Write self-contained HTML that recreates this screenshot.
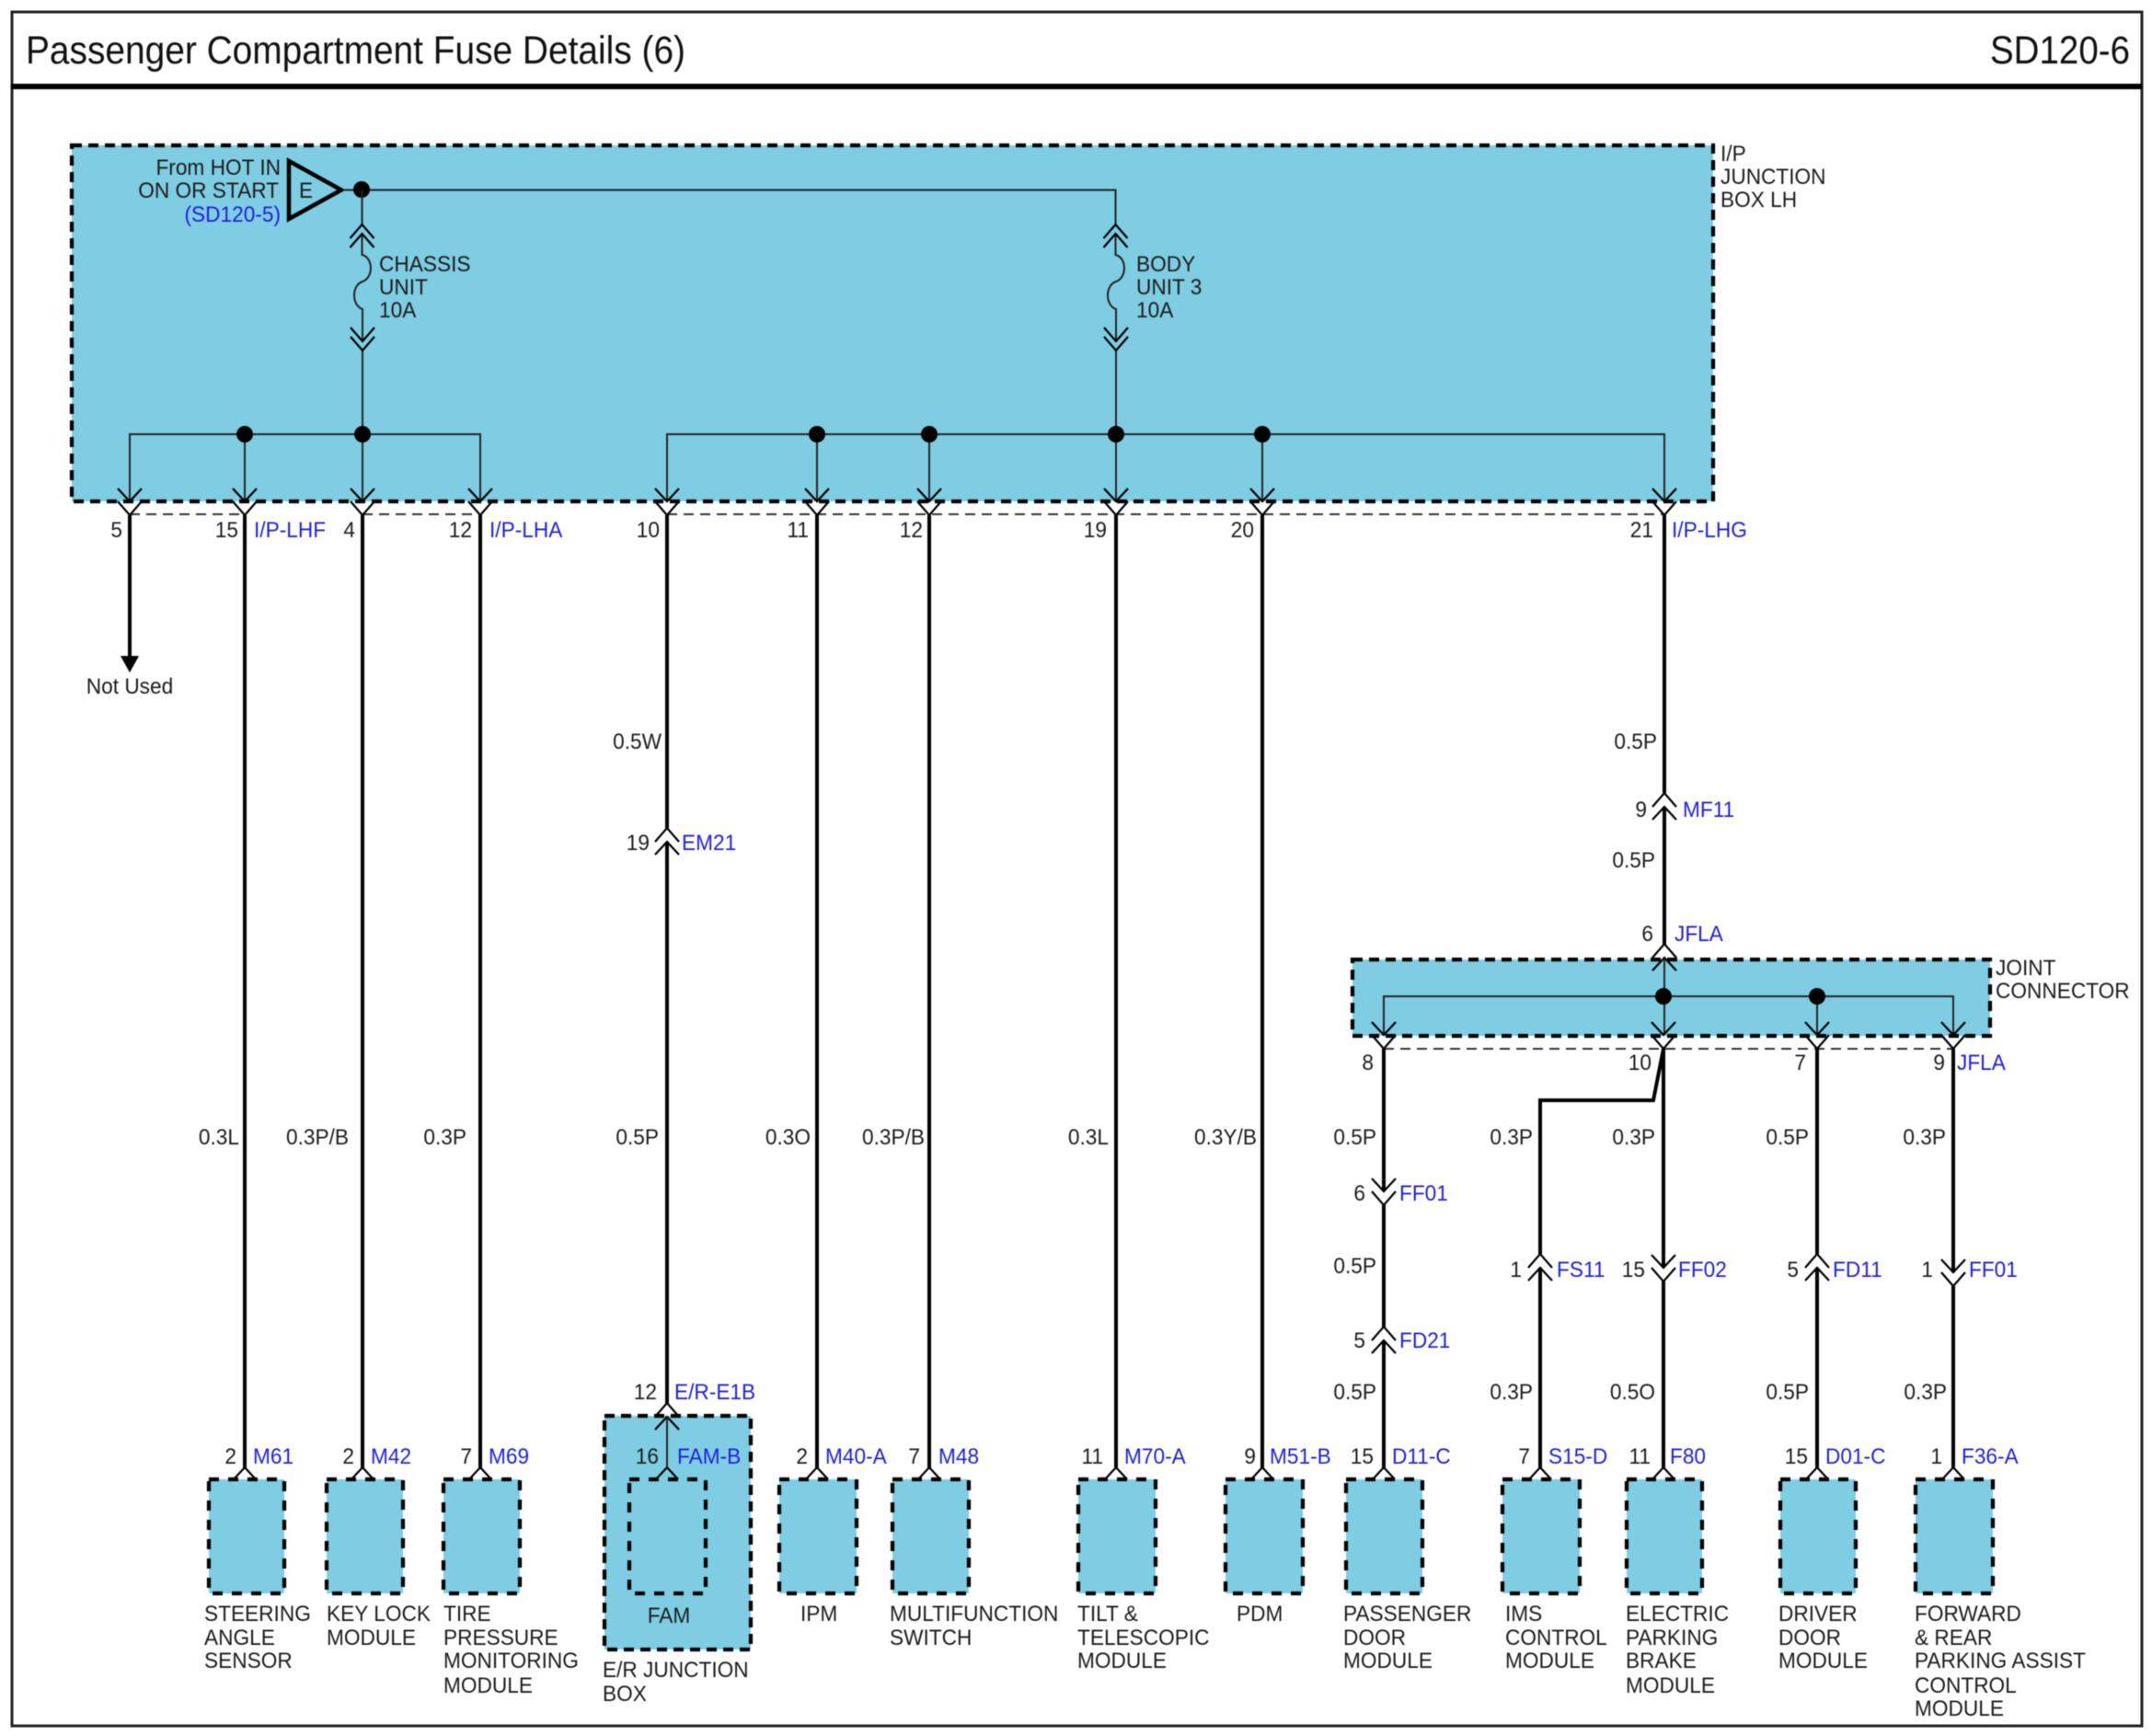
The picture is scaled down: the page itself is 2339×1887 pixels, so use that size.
<!DOCTYPE html>
<html><head><meta charset="utf-8"><style>
html,body{margin:0;padding:0;background:#fff}
svg{display:block;filter:blur(.4px)}
text{font-family:"Liberation Sans",sans-serif;font-size:24px;fill:#1c1c1c;transform-box:fill-box;transform-origin:0 50%;transform:scaleX(.945)}
text.r{text-anchor:end;transform-origin:100% 50%}
text.b{fill:#1f1fe0}
text.c{text-anchor:middle;transform-origin:50% 50%}
text.t{font-size:43px;transform:none;fill:#111}
.box{fill:#7fcde3;stroke:#000;stroke-width:4.2;stroke-dasharray:11 7}
.mod{stroke-dasharray:11 10}
.thin{fill:none;stroke:#222;stroke-width:2}
.w{fill:none;stroke:#000;stroke-width:4}
.dash{fill:none;stroke:#333;stroke-width:2;stroke-dasharray:11 7}
.ch{fill:none;stroke:#000;stroke-width:2.2}
</style></head><body>
<svg width="2339" height="1887" viewBox="0 0 2339 1887" xmlns="http://www.w3.org/2000/svg">
<defs>
<g id="D"><path class="ch" d="M-13-14L0 0L13-14M-13 0L0 15L13 0"/></g>
<g id="U"><path class="ch" d="M-13 14L0 0L13 14M-13 0L0-15L13 0"/></g>
<g id="M"><path class="ch" d="M-12 13L0 0L12 13"/></g>
<g id="F"><path class="ch" d="M-13 15L0 0L13 15"/></g>
<g id="G"><path class="ch" d="M-13-15L0 0L13-15"/></g>
</defs>
<rect x="0" y="0" width="2339" height="1887" fill="#fff"/>
<rect x="13" y="13" width="2315" height="1863" fill="none" stroke="#222" stroke-width="3"/>
<rect x="12" y="91" width="2316" height="6" fill="#000"/>
<text class="t" x="28" y="69" textLength="717" lengthAdjust="spacingAndGlyphs">Passenger Compartment Fuse Details (6)</text>
<text class="t" x="2163" y="69" textLength="152" lengthAdjust="spacingAndGlyphs">SD120-6</text>

<!-- boxes -->
<rect class="box" x="78" y="158" width="1784" height="387"/>
<rect class="box" x="1470" y="1043" width="693" height="83"/>
<rect class="box" x="657" y="1539" width="159" height="254"/>
<rect class="box mod" x="684" y="1608" width="83" height="124" />
<rect class="box mod" x="227" y="1608" width="82" height="124"/>
<rect class="box mod" x="355" y="1608" width="83" height="124"/>
<rect class="box mod" x="482" y="1608" width="83" height="124"/>
<rect class="box mod" x="847" y="1608" width="84" height="124"/>
<rect class="box mod" x="970" y="1608" width="83" height="124"/>
<rect class="box mod" x="1172" y="1608" width="84" height="124"/>
<rect class="box mod" x="1332" y="1608" width="84" height="124"/>
<rect class="box mod" x="1463" y="1608" width="83" height="124"/>
<rect class="box mod" x="1633" y="1608" width="84" height="124"/>
<rect class="box mod" x="1768" y="1608" width="82" height="124"/>
<rect class="box mod" x="1935" y="1608" width="82" height="124"/>
<rect class="box mod" x="2082" y="1608" width="84" height="124"/>

<!-- top source -->
<path d="M314 175L371 206.5L314 238Z" fill="none" stroke="#000" stroke-width="4.5"/>
<path class="thin" d="M373 206.5H1212.5V244"/>
<circle cx="393" cy="206" r="9"/>
<path class="thin" d="M393.5 206V244M393.5 254V277C406 280 406 302 394 306C382 310 382 332 394 336V371M394 381V472"/>
<path class="thin" d="M1212.5 254V277C1225 280 1225 302 1213 306C1201 310 1201 332 1213 336V371M1213 381V472"/>
<use href="#F" x="393.5" y="244"/><use href="#F" x="393.5" y="254"/>
<use href="#G" x="394" y="371"/><use href="#G" x="394" y="381"/>
<use href="#F" x="1212.5" y="244"/><use href="#F" x="1212.5" y="254"/>
<use href="#G" x="1213" y="371"/><use href="#G" x="1213" y="381"/>

<!-- buses -->
<path class="thin" d="M141 545V472H522V545M266 472V545M394 472V545"/>
<path class="thin" d="M725 545V472H1809V545M888 472V545M1010 472V545M1213 472V545M1372 472V545"/>
<circle cx="266" cy="472" r="9"/><circle cx="394" cy="472" r="9"/>
<circle cx="888" cy="472" r="9"/><circle cx="1010" cy="472" r="9"/><circle cx="1213" cy="472" r="9"/><circle cx="1372" cy="472" r="9"/>
<path class="dash" d="M141 559H266M394 559H522M725 559H1809"/>
<use href="#D" x="141" y="545"/><use href="#D" x="266" y="545"/><use href="#D" x="394" y="545"/><use href="#D" x="522" y="545"/>
<use href="#D" x="725" y="545"/><use href="#D" x="888" y="545"/><use href="#D" x="1010" y="545"/><use href="#D" x="1213" y="545"/><use href="#D" x="1372" y="545"/><use href="#D" x="1809" y="545"/>

<!-- thick wires -->
<path class="w" d="M141 560V715"/><path d="M131 713H151L141 731Z"/>
<path class="w" d="M266 560V1595M394 560V1595M522 560V1595M888 560V1595M1010 560V1595M1213 560V1595M1372 560V1595"/>
<path class="w" d="M725 560V900M725 915V1527"/>
<path class="w" d="M1809 560V862M1809 877V1027"/>
<use href="#U" x="725" y="915"/><use href="#U" x="1809" y="877"/>

<!-- joint connector -->
<use href="#U" x="1809" y="1041"/>
<path class="thin" d="M1809 1042V1125M1504 1125V1083H2123V1125M1975 1083V1125"/>
<circle cx="1808" cy="1083" r="9"/><circle cx="1975" cy="1083" r="9"/>
<path class="dash" d="M1504 1140H2123"/>
<use href="#D" x="1504" y="1125"/><use href="#D" x="1808" y="1125"/><use href="#D" x="1975" y="1125"/><use href="#D" x="2123" y="1125"/>
<path class="w" d="M1504 1140V1295M1504 1310V1442M1504 1457V1595"/>
<use href="#D" x="1504" y="1295"/><use href="#U" x="1504" y="1457"/>
<path class="w" d="M1808 1140L1797 1196H1674V1363M1674 1378V1595" stroke-linejoin="miter"/>
<path class="w" d="M1808 1140V1378M1808 1393V1595"/>
<path class="w" d="M1975 1140V1363M1975 1378V1595"/>
<path class="w" d="M2123 1140V1383M2123 1398V1595"/>
<use href="#U" x="1674" y="1378"/><use href="#D" x="1808" y="1378"/><use href="#U" x="1975" y="1378"/><use href="#D" x="2123" y="1383"/>

<!-- module connectors -->
<use href="#M" x="266" y="1595"/><use href="#M" x="394" y="1595"/><use href="#M" x="522" y="1595"/><use href="#M" x="725" y="1595"/><use href="#M" x="888" y="1595"/><use href="#M" x="1010" y="1595"/><use href="#M" x="1213" y="1595"/><use href="#M" x="1372" y="1595"/><use href="#M" x="1504" y="1595"/><use href="#M" x="1674" y="1595"/><use href="#M" x="1808" y="1595"/><use href="#M" x="1975" y="1595"/><use href="#M" x="2123" y="1595"/>
<use href="#U" x="725" y="1540"/>
<path class="thin" d="M725 1540V1595"/>

<!-- top labels -->
<text class="r" x="305" y="190">From HOT IN</text>
<text class="r" x="303" y="215">ON OR START</text>
<text class="r b" x="305" y="241">(SD120-5)</text>
<text x="325" y="215">E</text>
<text x="412" y="295">CHASSIS</text><text x="412" y="320">UNIT</text><text x="412" y="345">10A</text>
<text x="1235" y="295">BODY</text><text x="1235" y="320">UNIT 3</text><text x="1235" y="345">10A</text>
<text x="1870" y="175">I/P</text><text x="1870" y="200">JUNCTION</text><text x="1870" y="225">BOX LH</text>
<text x="2169" y="1060">JOINT</text><text x="2169" y="1085">CONNECTOR</text>

<!-- pin row -->
<text class="r" x="133" y="584">5</text>
<text class="r" x="259" y="584">15</text><text class="b" x="276" y="584">I/P-LHF</text>
<text class="r" x="386" y="584">4</text>
<text class="r" x="513" y="584">12</text><text class="b" x="532" y="584">I/P-LHA</text>
<text class="r" x="717" y="584">10</text>
<text class="r" x="879" y="584">11</text>
<text class="r" x="1003" y="584">12</text>
<text class="r" x="1203" y="584">19</text>
<text class="r" x="1363" y="584">20</text>
<text class="r" x="1797" y="584">21</text><text class="b" x="1817" y="584">I/P-LHG</text>
<text class="c" x="141" y="754">Not Used</text>

<text class="r" x="719" y="814">0.5W</text>
<text class="r" x="706" y="924">19</text><text class="b" x="741" y="924">EM21</text>
<text class="r" x="1801" y="814">0.5P</text>
<text class="r" x="1790" y="888">9</text><text class="b" x="1829" y="888">MF11</text>
<text class="r" x="1799" y="943">0.5P</text>
<text class="r" x="1797" y="1023">6</text><text class="b" x="1820" y="1023">JFLA</text>

<!-- wire sizes -->
<text class="r" x="260" y="1244">0.3L</text>
<text class="r" x="379" y="1244">0.3P/B</text>
<text class="r" x="507" y="1244">0.3P</text>
<text class="r" x="716" y="1244">0.5P</text>
<text class="r" x="881" y="1244">0.3O</text>
<text class="r" x="1005" y="1244">0.3P/B</text>
<text class="r" x="1205" y="1244">0.3L</text>
<text class="r" x="1366" y="1244">0.3Y/B</text>
<text class="r" x="1496" y="1244">0.5P</text>
<text class="r" x="1666" y="1244">0.3P</text>
<text class="r" x="1799" y="1244">0.3P</text>
<text class="r" x="1966" y="1244">0.5P</text>
<text class="r" x="2115" y="1244">0.3P</text>

<!-- joint pins -->
<text class="r" x="1493" y="1163">8</text>
<text class="r" x="1795" y="1163">10</text>
<text class="r" x="1963" y="1163">7</text>
<text class="r" x="2114" y="1163">9</text><text class="b" x="2127" y="1163">JFLA</text>

<text class="r" x="1484" y="1305">6</text><text class="b" x="1521" y="1305">FF01</text>
<text class="r" x="1496" y="1384">0.5P</text>
<text class="r" x="1484" y="1465">5</text><text class="b" x="1521" y="1465">FD21</text>
<text class="r" x="1654" y="1388">1</text><text class="b" x="1692" y="1388">FS11</text>
<text class="r" x="1788" y="1388">15</text><text class="b" x="1824" y="1388">FF02</text>
<text class="r" x="1955" y="1388">5</text><text class="b" x="1992" y="1388">FD11</text>
<text class="r" x="2101" y="1388">1</text><text class="b" x="2140" y="1388">FF01</text>

<text class="r" x="1496" y="1521">0.5P</text>
<text class="r" x="1666" y="1521">0.3P</text>
<text class="r" x="1799" y="1521">0.5O</text>
<text class="r" x="1966" y="1521">0.5P</text>
<text class="r" x="2116" y="1521">0.3P</text>
<text class="r" x="714" y="1521">12</text><text class="b" x="733" y="1521">E/R-E1B</text>

<!-- module pins -->
<text class="r" x="257" y="1591">2</text><text class="b" x="275" y="1591">M61</text>
<text class="r" x="385" y="1591">2</text><text class="b" x="403" y="1591">M42</text>
<text class="r" x="513" y="1591">7</text><text class="b" x="531" y="1591">M69</text>
<text class="r" x="716" y="1591">16</text><text class="b" x="736" y="1591">FAM-B</text>
<text class="r" x="878" y="1591">2</text><text class="b" x="897" y="1591">M40-A</text>
<text class="r" x="1000" y="1591">7</text><text class="b" x="1020" y="1591">M48</text>
<text class="r" x="1199" y="1591">11</text><text class="b" x="1222" y="1591">M70-A</text>
<text class="r" x="1365" y="1591">9</text><text class="b" x="1380" y="1591">M51-B</text>
<text class="r" x="1493" y="1591">15</text><text class="b" x="1513" y="1591">D11-C</text>
<text class="r" x="1663" y="1591">7</text><text class="b" x="1683" y="1591">S15-D</text>
<text class="r" x="1794" y="1591">11</text><text class="b" x="1815" y="1591">F80</text>
<text class="r" x="1965" y="1591">15</text><text class="b" x="1984" y="1591">D01-C</text>
<text class="r" x="2111" y="1591">1</text><text class="b" x="2132" y="1591">F36-A</text>

<!-- module names -->
<text x="222" y="1762">STEERING</text><text x="222" y="1788">ANGLE</text><text x="222" y="1813">SENSOR</text>
<text x="355" y="1762">KEY LOCK</text><text x="355" y="1788">MODULE</text>
<text x="482" y="1762">TIRE</text><text x="482" y="1788">PRESSURE</text><text x="482" y="1813">MONITORING</text><text x="482" y="1840">MODULE</text>
<text class="c" x="727" y="1764">FAM</text>
<text x="655" y="1823">E/R JUNCTION</text><text x="655" y="1849">BOX</text>
<text x="870" y="1762">IPM</text>
<text x="967" y="1762">MULTIFUNCTION</text><text x="967" y="1788">SWITCH</text>
<text x="1171" y="1762">TILT &amp;</text><text x="1171" y="1788">TELESCOPIC</text><text x="1171" y="1813">MODULE</text>
<text x="1344" y="1762">PDM</text>
<text x="1460" y="1762">PASSENGER</text><text x="1460" y="1788">DOOR</text><text x="1460" y="1813">MODULE</text>
<text x="1636" y="1762">IMS</text><text x="1636" y="1788">CONTROL</text><text x="1636" y="1813">MODULE</text>
<text x="1767" y="1762">ELECTRIC</text><text x="1767" y="1788">PARKING</text><text x="1767" y="1813">BRAKE</text><text x="1767" y="1840">MODULE</text>
<text x="1933" y="1762">DRIVER</text><text x="1933" y="1788">DOOR</text><text x="1933" y="1813">MODULE</text>
<text x="2081" y="1762">FORWARD</text><text x="2081" y="1788">&amp; REAR</text><text x="2081" y="1813">PARKING ASSIST</text><text x="2081" y="1840">CONTROL</text><text x="2081" y="1865">MODULE</text>
</svg>
</body></html>
